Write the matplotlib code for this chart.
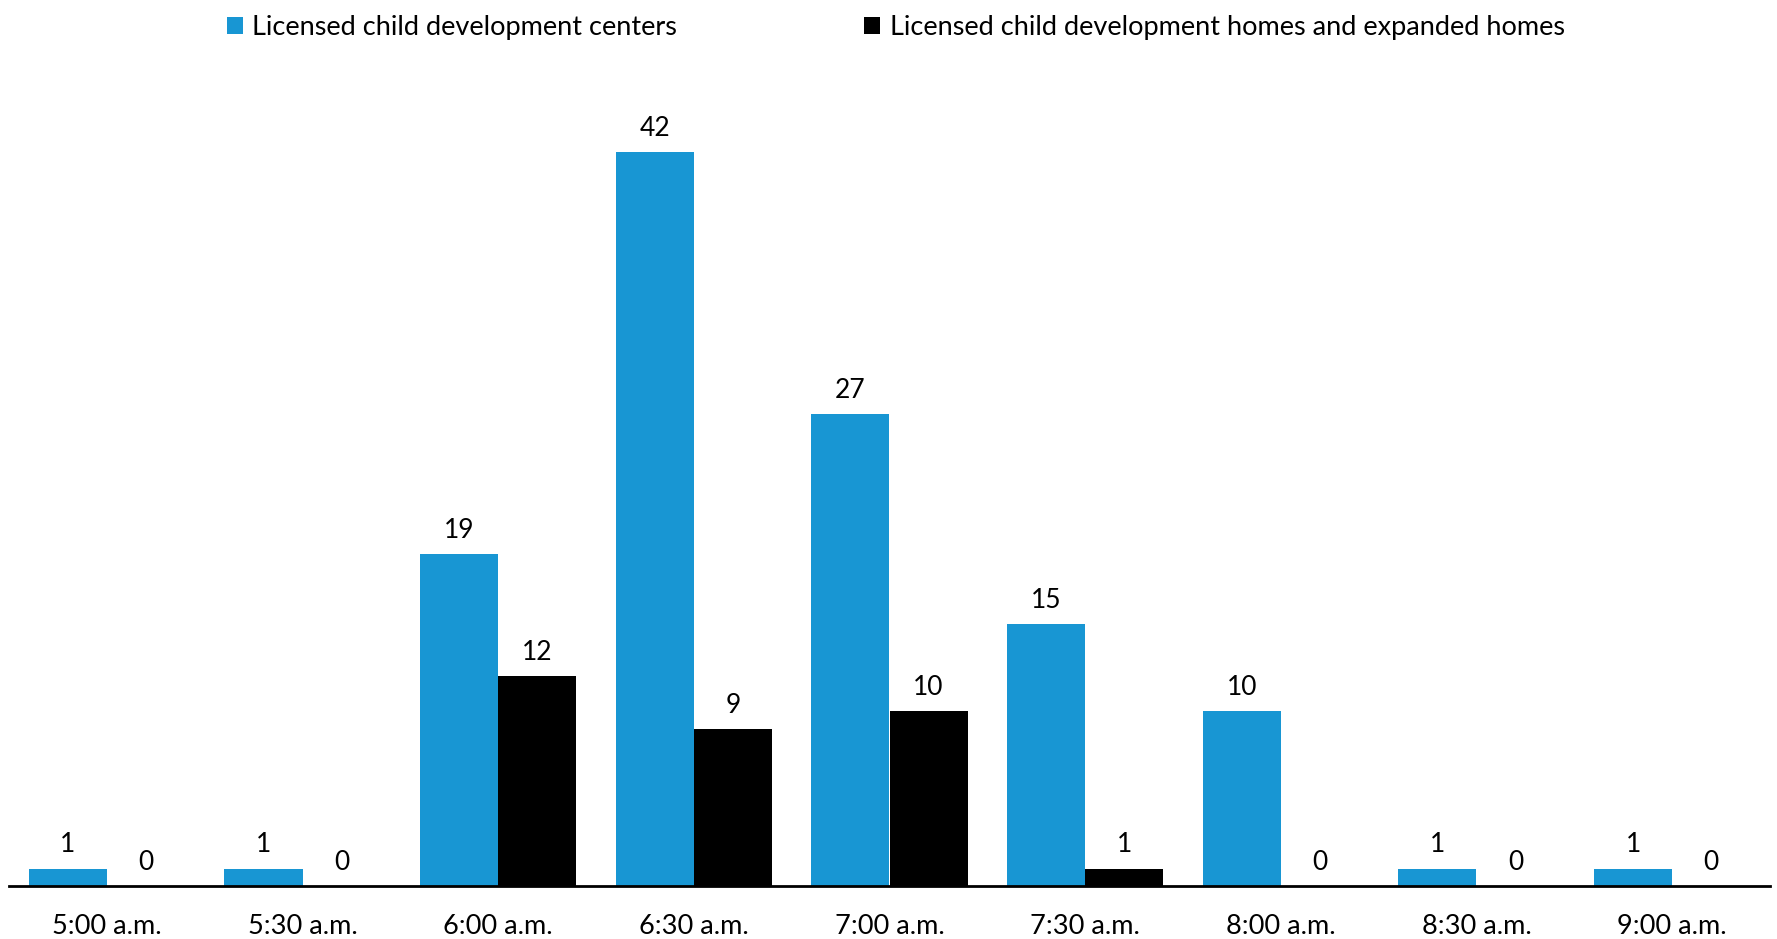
import matplotlib
matplotlib.use("Agg")
import matplotlib.pyplot as plt
import numpy as np

plt.rcParams['font.family'] = ['Lato', 'DejaVu Sans']

times = ['5:00 a.m.', '5:30 a.m.', '6:00 a.m.', '6:30 a.m.', '7:00 a.m.',
         '7:30 a.m.', '8:00 a.m.', '8:30 a.m.', '9:00 a.m.']
centers = [1, 1, 19, 42, 27, 15, 10, 1, 1]
homes = [0, 0, 12, 9, 10, 1, 0, 0, 0]

blue = '#1896D3'
x = np.arange(len(times))
w = 0.4

fig = plt.figure(figsize=(17.77, 9.39), dpi=100)
ax = fig.add_axes([9/1777, 1 - 886/939, (1770 - 9)/1777, 786/939])

b1 = ax.bar(x - w/2, centers, w, color=blue, linewidth=0,
            label='Licensed child development centers')
b2 = ax.bar(x + w/2, homes, w, color='black', linewidth=0,
            label='Licensed child development homes and expanded homes')

for bars in (b1, b2):
    for r in bars:
        ax.annotate(str(int(r.get_height())), (r.get_x() + r.get_width()/2, r.get_height()),
                    xytext=(0, 8), textcoords='offset points', ha='center', va='bottom',
                    fontsize=19)

ax.set_xlim(-0.5, len(times) - 0.5)
ax.set_ylim(0, 45)
ax.set_xticks(x)
ax.set_xticklabels(times, fontsize=19.5)
ax.tick_params(axis='x', length=0, pad=20)
ax.set_yticks([])
for s in ('top', 'right', 'left'):
    ax.spines[s].set_visible(False)
ax.spines['bottom'].set_linewidth(2)

fig.legend(loc='upper center', bbox_to_anchor=(0.504, 1.01), ncol=2, frameon=False,
           fontsize=19.5, handlelength=0.6, handleheight=0.6, handletextpad=0.35,
           columnspacing=6.9)

fig.savefig('out.png', dpi=100)
